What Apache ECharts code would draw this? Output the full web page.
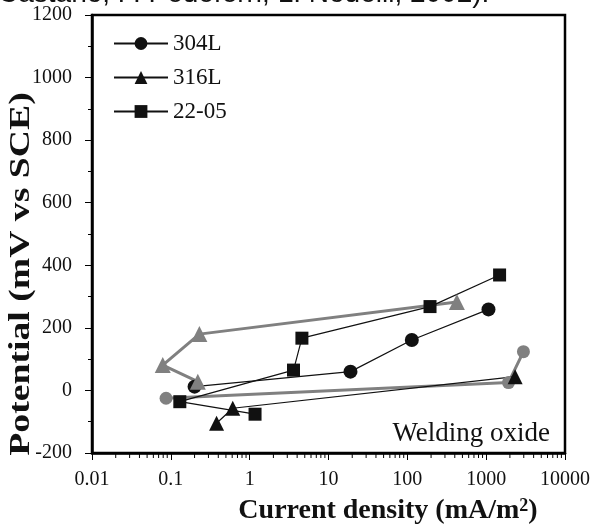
<!DOCTYPE html>
<html>
<head>
<meta charset="utf-8">
<script src="https://cdn.jsdelivr.net/npm/echarts@6/dist/echarts.min.js"></script>
<style>html,body{margin:0;padding:0;background:#fff;}#c{width:596px;height:526px;}</style>
</head>
<body>
<div id="c"></div>
<script>
// ---- data (current density mA/m2, potential mV vs SCE) ----
const xTickLabels = ['0.01', '0.1', '1', '10', '100', '1000', '10000'];
const s304L = [[0.2, 12], [19, 60], [114, 161], [1070, 259]];
const s316L = [[0.38, -105], [0.61, -57], [2330, 44]];
const s2205 = [[1.17, -76], [0.13, -36], [3.6, 65], [4.6, 167], [194, 268], [1480, 369]];
const grayTriangles = [[0.22, 28], [0.079, 81], [0.23, 180], [425, 283]];
const grayCircles = [[0.087, -25], [1920, 25], [2970, 124]];
const legendNames = ['304L', '316L', '22-05'];

const serif = 'Liberation Serif';
const BLACK = '#111';
const GRAY = '#808080';
const Y_MIN = -200, Y_MAX = 1200;

// minor tick positions of the log axis (2..9 within each decade)
const minorTickValues = [];
for (let i = 0; i < xTickLabels.length - 1; i++) {
  const d = parseFloat(xTickLabels[i]);
  for (let k = 2; k <= 9; k++) minorTickValues.push(+(k * d).toPrecision(6));
}

const chart = echarts.init(document.getElementById('c'), null, {renderer: 'canvas'});

function blackSeries(name, data, symbol, size) {
  return {
    name: name, type: 'line', data: data, symbol: symbol, symbolSize: size,
    lineStyle: {color: BLACK, width: 1.2},
    itemStyle: {color: BLACK},
    showSymbol: true, animation: false, z: 3
  };
}
function graySeries(name, data, symbol, size) {
  return {
    name: name, type: 'line', data: data, symbol: symbol, symbolSize: size,
    lineStyle: {color: GRAY, width: 3},
    itemStyle: {color: GRAY},
    showSymbol: true, animation: false, z: 3
  };
}

chart.setOption({
  animation: false,
  backgroundColor: '#fff',
  grid: {left: 92, right: 31, top: 15, bottom: 73, show: true, borderColor: '#000', borderWidth: 2.5},
  legend: {
    data: legendNames, orient: 'vertical', left: 108, top: 27,
    itemWidth: 54, itemHeight: 16, itemGap: 11,
    textStyle: {fontFamily: serif, fontSize: 23, color: '#111'}
  },
  xAxis: {
    type: 'log', logBase: 10, min: 0.01, max: 10000,
    axisLine: {show: true, onZero: false, lineStyle: {color: '#000', width: 2.5}},
    axisTick: {show: true, inside: false, length: 7, lineStyle: {color: '#000', width: 1}},
    minorTick: {show: false},
    splitLine: {show: false},
    axisLabel: {
      fontFamily: serif, fontSize: 20, color: '#111', margin: 17,
      formatter: function (v, i) { return xTickLabels[i] !== undefined ? xTickLabels[i] : ''; }
    }
  },
  yAxis: {
    type: 'value', min: Y_MIN, max: Y_MAX, interval: 200,
    axisLine: {show: true, onZero: false, lineStyle: {color: '#000', width: 2.5}},
    axisTick: {show: true, inside: false, length: 7, lineStyle: {color: '#000', width: 1}},
    minorTick: {show: true, splitNumber: 2, length: 4, lineStyle: {color: '#000', width: 1}},
    splitLine: {show: false},
    axisLabel: {fontFamily: serif, fontSize: 20, color: '#111', margin: 20,
      formatter: function (v) { return String(v); }}
  },
  graphic: [
    {type: 'text', left: -2, top: -20, silent: true,
     style: {text: 'Castaño, P. Pedeferri, L. Nodelli, 2002).', fontFamily: 'Liberation Sans', fontSize: 28, fill: '#111'}},
    {type: 'text', x: 22, y: 274, rotation: Math.PI / 2, scaleX: 1.3, silent: true,
     style: {text: 'Potential (mV vs SCE)', fontFamily: serif, fontWeight: 'bold', fontSize: 29, fill: '#111', align: 'center', verticalAlign: 'middle'}},
    {type: 'text', x: 388, y: 511, silent: true,
     style: {text: 'Current density (mA/m{sup|2})', fontFamily: serif, fontWeight: 'bold', fontSize: 28, fill: '#111', align: 'center', verticalAlign: 'middle',
       rich: {sup: {fontFamily: serif, fontWeight: 'bold', fontSize: 18, fill: '#111', verticalAlign: 'top', padding: [0, 0, 10, 0]}}}},
    {type: 'text', x: 550, y: 434, silent: true,
     style: {text: 'Welding oxide', fontFamily: serif, fontSize: 27, fill: '#111', align: 'right', verticalAlign: 'middle'}}
  ],
  series: [
    {
      name: 'minor ticks', type: 'custom', silent: true, clip: false, z: 1,
      data: minorTickValues.map(function (v) { return [v, Y_MIN]; }),
      renderItem: function (params, api) {
        const p = api.coord([api.value(0), Y_MIN]);
        return {type: 'line', shape: {x1: p[0], y1: p[1] + 1, x2: p[0], y2: p[1] + 5},
                style: {stroke: '#000', lineWidth: 1}};
      }
    },
    blackSeries('304L', s304L, 'circle', 14),
    graySeries('304L gray', grayTriangles, 'triangle', 16),
    graySeries('gray circles', grayCircles, 'circle', 13),
    blackSeries('316L', s316L, 'triangle', 15),
    blackSeries('22-05', s2205, 'rect', 13)
  ]
});
</script>
</body>
</html>
